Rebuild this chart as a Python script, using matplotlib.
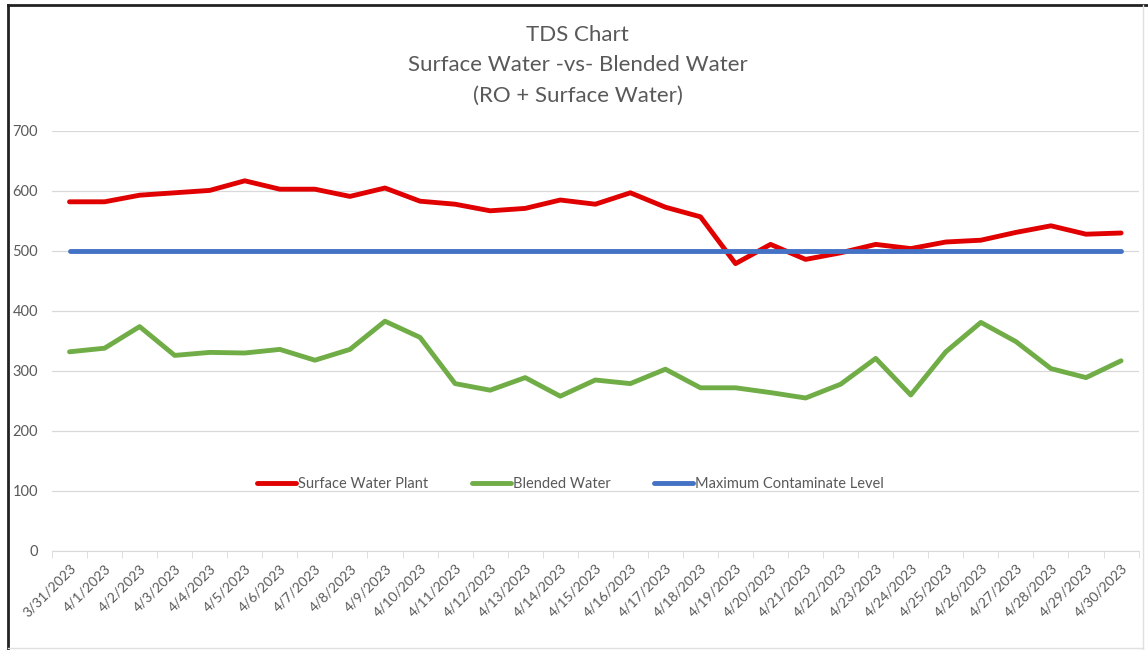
import numpy as np
import matplotlib.pyplot as plt
from matplotlib.lines import Line2D

plt.rcParams['font.family'] = ['Lato', 'DejaVu Sans']

dates = ['3/31/2023'] + ['4/%d/2023' % d for d in range(1, 31)]
surface = [582, 582, 593, 597, 601, 617, 603, 603, 591, 605, 583, 578, 567, 571, 585,
           578, 597, 573, 557, 479, 511, 486, 497, 511, 504, 515, 518, 531, 542, 528, 530]
blended = [332, 338, 374, 326, 331, 330, 336, 318, 336, 383, 356, 279, 268, 289, 258,
           285, 279, 303, 272, 272, 264, 255, 278, 321, 260, 332, 381, 349, 304, 289, 317]
mcl = [500] * 31

gray = '#595959'
grid = '#d9d9d9'

fig = plt.figure(figsize=(11.48, 6.5), dpi=100)
ax = fig.add_axes([52 / 1148, 99 / 650, 1086.6 / 1148, 420 / 650])

x = np.arange(len(dates))
ax.plot(x, surface, color='#e00000', lw=3.5, label='Surface Water Plant', solid_capstyle='round')
ax.plot(x, blended, color='#70ad47', lw=3.5, label='Blended Water', solid_capstyle='round')
ax.plot(x, mcl, color='#4472c4', lw=3.5, label='Maximum Contaminate Level', solid_capstyle='round')

ax.set_xlim(-0.5, len(dates) - 0.5)
ax.set_ylim(0, 700)
ax.set_yticks(range(0, 701, 100))
ax.yaxis.grid(True, color=grid, lw=0.9)
ax.set_axisbelow(True)
for s in ['top', 'right', 'left']:
    ax.spines[s].set_visible(False)
ax.spines['bottom'].set_color(grid)
ax.tick_params(axis='y', length=0, labelcolor=gray, labelsize=10.5, pad=10)

ax.set_xticks(x)
ax.set_xticklabels(dates, rotation=45, ha='right', rotation_mode='anchor')
ax.tick_params(axis='x', which='major', length=0, labelcolor=gray, labelsize=10, pad=8)
ax.set_xticks(np.arange(-0.5, len(dates), 1), minor=True)
ax.tick_params(axis='x', which='minor', length=5, color=grid)

title_x = 0.503
fig.text(title_x, 1 - 35 / 650, 'TDS Chart', ha='center', va='center', fontsize=16, color=gray)
fig.text(title_x, 1 - 65 / 650, 'Surface Water -vs- Blended Water', ha='center', va='center', fontsize=16, color=gray)
fig.text(title_x, 1 - 96 / 650, '(RO + Surface Water)', ha='center', va='center', fontsize=16, color=gray)

leg = ax.legend(loc='center', bbox_to_anchor=(0.477, 0.16), ncol=3, frameon=False,
                fontsize=10.5, handlelength=2.7, handletextpad=0.1, columnspacing=3.0)
for t in leg.get_texts():
    t.set_color(gray)

# outer frame
fig.add_artist(Line2D([8 / 1148, 8 / 1148], [0, 1 - 5 / 650], color='#222222', lw=2))
fig.add_artist(Line2D([8 / 1148, 1], [1 - 5 / 650, 1 - 5 / 650], color='#222222', lw=2))
fig.add_artist(Line2D([1143 / 1148, 1143 / 1148], [0, 1 - 5 / 650], color='#e0e0e0', lw=1))
fig.add_artist(Line2D([8 / 1148, 1143 / 1148], [2 / 650, 2 / 650], color='#e0e0e0', lw=1))

fig.savefig('out.png', dpi=100)
